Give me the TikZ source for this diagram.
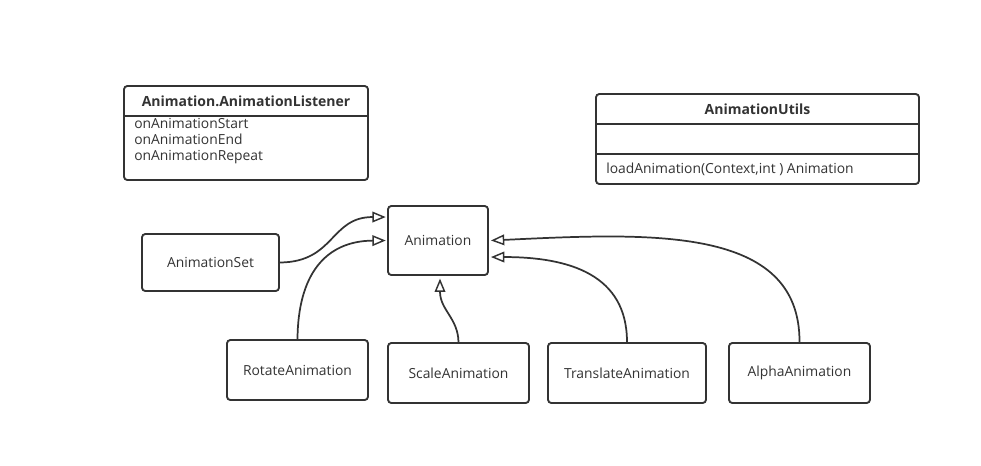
\documentclass[tikz,border=0pt]{standalone}
\usepackage{fontspec}
\setmainfont{Open Sans}
\usetikzlibrary{arrows.meta}
\definecolor{linec}{HTML}{333333}
\def\unitpx{0.75pt}
\tikzset{
  box/.style={draw=linec, line width=1.4pt, rounded corners=2.5pt, inner sep=0pt,
    text=linec, font=\fontsize{10.4}{12}\selectfont},
  member/.style={inner sep=0pt, text=linec, align=left, anchor=west,
    font=\fontsize{10.4}{12}\selectfont},
  title/.style={inner sep=0pt, text=linec, font=\fontsize{10.5}{12}\selectfont\bfseries},
  gen/.style={draw=linec, line width=1.3pt,
    -{Triangle[open, length=10pt, width=8pt, line width=1.1pt]}},
}
\begin{document}
\begin{tikzpicture}[x=0.75pt, y=0.75pt] % {{{
\useasboundingbox (0,0) rectangle (981,-465);
\begin{scope} % Listener {{{
\node[box, minimum width=244*\unitpx, minimum height=94*\unitpx] (listener) at (246,-133) {};
\draw[draw=linec, line width=1.4pt] (listener.west |- 0,-116) -- (listener.east |- 0,-116);
\node[title] (listenerTitle) at (246,-101) {Animation.AnimationListener};
\node[member] (listenerMembers) at (134,-141.5) {onAnimationStart\\onAnimationEnd\\onAnimationRepeat};
\end{scope} % }}}
\begin{scope} % Utils {{{
\node[box, minimum width=323*\unitpx, minimum height=90*\unitpx] (utils) at (757.5,-139) {};
\foreach \y in {124,154} {
  \draw[draw=linec, line width=1.4pt] (utils.west |- 0,-\y) -- (utils.east |- 0,-\y);
}
\node[title] (utilsTitle) at (757.5,-109) {AnimationUtils};
\node[member] (utilsMembers) at (606,-169.5) {loadAnimation(Context,int ) Animation};
\end{scope} % }}}
\begin{scope} % Hierarchy {{{
\node[box, minimum width=100*\unitpx, minimum height=69*\unitpx] (anim) at (438,-240.5) {Animation};
\node[box, minimum width=137*\unitpx, minimum height=57*\unitpx] (set) at (210.5,-262.5) {AnimationSet};
\node[box, minimum width=141*\unitpx, minimum height=60*\unitpx] (rot) at (297.5,-370) {RotateAnimation};
\node[box, minimum width=141*\unitpx, minimum height=60*\unitpx] (scale) at (458.5,-373) {ScaleAnimation};
\node[box, minimum width=158*\unitpx, minimum height=60*\unitpx] (trans) at (627,-373) {TranslateAnimation};
\node[box, minimum width=141*\unitpx, minimum height=60*\unitpx] (alpha) at (799.5,-373) {AlphaAnimation};
\end{scope} % }}}
% Generalizations {{{
\draw[gen] (set.east) .. controls (335,-262) and (330,-217) .. ([xshift=-1pt,yshift=17.6pt]anim.west);
\draw[gen] (rot.north) .. controls (298,-275) and (325,-241) .. ([xshift=-1pt]anim.west);
\draw[gen] (scale.north) .. controls (458,-318) and (440,-310) .. ([xshift=1.5pt,yshift=-2pt]anim.south);
\draw[gen] (trans.north) .. controls (627,-275) and (570,-257) .. ([xshift=1.5pt,yshift=-12.4pt]anim.east);
\draw[gen] (alpha.north) .. controls (800,-225) and (650,-233) .. ([xshift=1.5pt]anim.east);
% }}}
\end{tikzpicture} % }}}
\end{document}
